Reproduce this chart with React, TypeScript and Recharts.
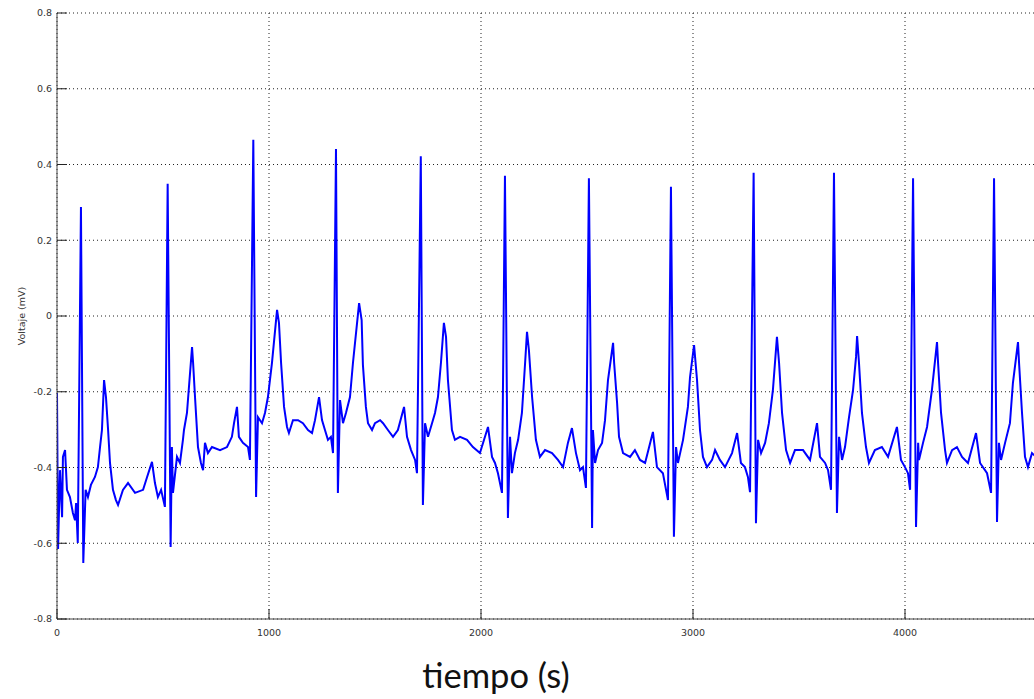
import React from 'react';
import { LineChart, Line, XAxis, YAxis, CartesianGrid } from 'recharts';

const timeTicks = [0, 1000, 2000, 3000, 4000];
const voltTicks = [-0.8, -0.6, -0.4, -0.2, 0, 0.2, 0.4, 0.6, 0.8];

const times = [
  0, 5, 14, 24, 28, 38, 47, 61, 75, 85, 90, 98, 113, 124, 135, 146, 160, 179, 193, 203,
  212, 222, 231, 241, 250, 264, 278, 288, 311, 335, 368, 406, 425, 448, 462, 476, 491, 509, 522, 536,
  542, 547, 566, 580, 594, 599, 613, 637, 642, 651, 665, 679, 689, 698, 712, 731, 769, 802, 825, 835,
  849, 858, 877, 901, 910, 926, 939, 948, 967, 981, 995, 1014, 1038, 1047, 1057, 1071, 1085, 1094, 1113, 1137,
  1160, 1184, 1203, 1217, 1236, 1250, 1264, 1278, 1292, 1302, 1316, 1325, 1335, 1349, 1363, 1382, 1396, 1425, 1437, 1443,
  1457, 1467, 1486, 1500, 1524, 1538, 1561, 1585, 1608, 1637, 1651, 1670, 1689, 1698, 1716, 1726, 1736, 1750, 1769, 1783,
  1797, 1811, 1825, 1835, 1844, 1863, 1877, 1901, 1934, 1962, 1995, 2033, 2052, 2066, 2080, 2099, 2113, 2127, 2137, 2146,
  2160, 2175, 2193, 2208, 2217, 2226, 2241, 2259, 2278, 2302, 2335, 2363, 2387, 2410, 2429, 2448, 2467, 2481, 2495, 2509,
  2524, 2528, 2538, 2552, 2571, 2585, 2599, 2623, 2628, 2642, 2651, 2670, 2703, 2726, 2750, 2774, 2811, 2830, 2858, 2882,
  2896, 2910, 2920, 2929, 2953, 2976, 2986, 3005, 3019, 3033, 3047, 3066, 3090, 3104, 3127, 3151, 3184, 3208, 3226, 3245,
  3259, 3269, 3286, 3297, 3307, 3321, 3340, 3358, 3377, 3396, 3406, 3420, 3439, 3458, 3481, 3519, 3552, 3585, 3599, 3623,
  3637, 3651, 3665, 3679, 3689, 3703, 3717, 3736, 3755, 3769, 3774, 3783, 3797, 3816, 3830, 3858, 3891, 3920, 3962, 3981,
  4000, 4014, 4024, 4038, 4052, 4062, 4066, 4085, 4104, 4127, 4151, 4156, 4170, 4189, 4198, 4222, 4245, 4269, 4297, 4335,
  4354, 4387, 4406, 4420, 4434, 4443, 4453, 4472, 4495, 4509, 4533, 4538, 4552, 4566, 4580, 4599, 4618,
];

const volts = [
  -0.203, -0.615, -0.407, -0.531, -0.372, -0.354, -0.459, -0.478, -0.52, -0.539, -0.494, -0.599, 0.288, -0.652, -0.459, -0.478, -0.446, -0.425, -0.399, -0.346,
  -0.301, -0.169, -0.214, -0.301, -0.388, -0.459, -0.486, -0.499, -0.459, -0.441, -0.467, -0.459, -0.425, -0.385, -0.441, -0.478, -0.459, -0.504, 0.349, -0.61,
  -0.346, -0.467, -0.372, -0.388, -0.327, -0.301, -0.256, -0.082, -0.124, -0.214, -0.346, -0.388, -0.407, -0.335, -0.362, -0.346, -0.354, -0.346, -0.319, -0.283,
  -0.24, -0.319, -0.335, -0.346, -0.38, 0.465, -0.478, -0.267, -0.283, -0.256, -0.214, -0.124, 0.016, -0.018, -0.124, -0.24, -0.293, -0.309, -0.275, -0.275,
  -0.283, -0.301, -0.309, -0.275, -0.214, -0.275, -0.301, -0.327, -0.319, -0.362, 0.441, -0.467, -0.222, -0.283, -0.256, -0.214, -0.124, 0.034, -0.011, -0.129,
  -0.24, -0.283, -0.301, -0.283, -0.275, -0.283, -0.301, -0.319, -0.301, -0.24, -0.319, -0.354, -0.38, -0.415, 0.422, -0.499, -0.283, -0.319, -0.283, -0.256,
  -0.214, -0.124, -0.018, -0.055, -0.169, -0.301, -0.327, -0.319, -0.327, -0.346, -0.362, -0.293, -0.372, -0.388, -0.415, -0.467, 0.37, -0.533, -0.319, -0.415,
  -0.362, -0.327, -0.256, -0.124, -0.042, -0.09, -0.214, -0.327, -0.372, -0.354, -0.362, -0.38, -0.399, -0.335, -0.296, -0.362, -0.407, -0.399, -0.454, 0.364,
  -0.56, -0.301, -0.388, -0.354, -0.335, -0.275, -0.169, -0.071, -0.124, -0.23, -0.319, -0.362, -0.372, -0.354, -0.38, -0.388, -0.306, -0.399, -0.415, -0.486,
  0.341, -0.583, -0.346, -0.388, -0.327, -0.24, -0.161, -0.077, -0.169, -0.301, -0.372, -0.399, -0.38, -0.354, -0.38, -0.399, -0.362, -0.309, -0.388, -0.399,
  -0.425, -0.465, 0.378, -0.547, -0.327, -0.362, -0.335, -0.283, -0.195, -0.055, -0.124, -0.256, -0.354, -0.388, -0.354, -0.354, -0.38, -0.283, -0.372, -0.388,
  -0.407, -0.459, 0.378, -0.52, -0.319, -0.38, -0.346, -0.267, -0.195, -0.108, -0.053, -0.124, -0.256, -0.346, -0.388, -0.354, -0.346, -0.372, -0.293, -0.38,
  -0.399, -0.415, -0.459, 0.364, -0.557, -0.335, -0.38, -0.335, -0.293, -0.195, -0.069, -0.124, -0.256, -0.354, -0.388, -0.354, -0.346, -0.372, -0.388, -0.309,
  -0.388, -0.415, -0.467, 0.364, -0.544, -0.335, -0.38, -0.335, -0.283, -0.177, -0.069, -0.124, -0.256, -0.372, -0.399, -0.362, -0.372,
];

const data = times.map((t, i) => ({ t, v: volts[i] }));

const tickFont = { fontFamily: 'DejaVu Sans', fontSize: 9.5, fill: '#333' };
const axisColor = '#444';

const fmtVolt = (v: number) => (Math.abs(v) < 1e-9 ? '0' : v.toFixed(1));

export default function App() {
  return (
    <div
      style={{
        position: 'absolute',
        left: 0,
        top: 0,
        width: 1034,
        height: 699,
        overflow: 'hidden',
        background: '#fff',
      }}
    >
      <LineChart
        width={1140}
        height={699}
        data={data}
        margin={{ top: 13, right: 23, bottom: 50, left: 0 }}
      >
        <CartesianGrid
          stroke="#222"
          strokeDasharray="1 3"
          horizontalValues={voltTicks}
          verticalValues={timeTicks}
        />
        <XAxis
          dataKey="t"
          type="number"
          domain={[0, 5000]}
          ticks={timeTicks}
          interval={0}
          height={30}
          tickSize={-10}
          tickMargin={20}
          tick={tickFont}
          stroke={axisColor}
          tickLine={{ stroke: '#222' }}
          allowDataOverflow
          label={{
            content: () => (
              <text
                x={496}
                y={688}
                textAnchor="middle"
                style={{ fontFamily: 'Lato', fontSize: 34.5, fill: '#111' }}
              >
                tiempo (s)
              </text>
            ),
          }}
        />
        <XAxis
          xAxisId="top"
          orientation="top"
          dataKey="t"
          type="number"
          domain={[0, 5000]}
          ticks={timeTicks}
          interval={0}
          height={0}
          tickSize={-10}
          tick={() => <g />}
          stroke={axisColor}
          tickLine={{ stroke: '#222' }}
        />
        <YAxis
          type="number"
          domain={[-0.8, 0.8]}
          ticks={voltTicks}
          interval={0}
          width={57}
          tickSize={-10}
          tickMargin={15}
          tick={tickFont}
          tickFormatter={fmtVolt}
          stroke={axisColor}
          tickLine={{ stroke: '#222' }}
          allowDataOverflow
          label={{
            content: (props: any) => {
              const vb = props.viewBox || { x: 0, y: 13, width: 57, height: 606 };
              const cx = vb.x + 21;
              const cy = vb.y + vb.height / 2;
              return (
                <text
                  x={cx}
                  y={cy}
                  textAnchor="middle"
                  dominantBaseline="central"
                  transform={`rotate(-90 ${cx} ${cy})`}
                  style={{ fontFamily: 'DejaVu Sans', fontSize: 9.5, fill: '#333' }}
                >
                  Voltaje (mV)
                </text>
              );
            },
          }}
        />
        <Line
          type="linear"
          dataKey="v"
          stroke="#0000ff"
          strokeWidth={2}
          dot={false}
          isAnimationActive={false}
        />
      </LineChart>
    </div>
  );
}
